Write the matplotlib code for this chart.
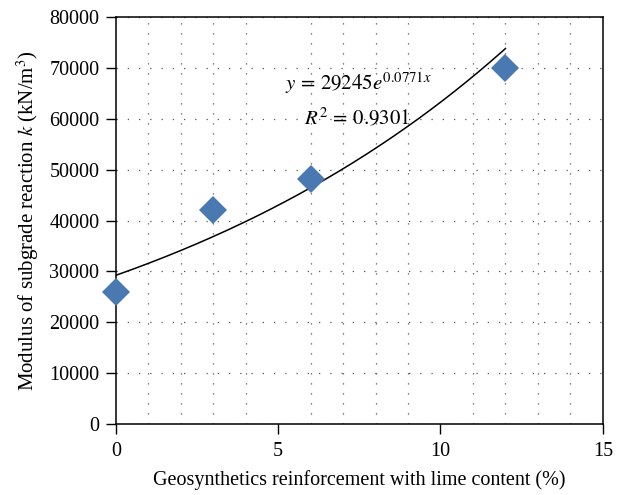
import numpy as np
import matplotlib
matplotlib.use('Agg')
import matplotlib.pyplot as plt

lime_content = [0, 3, 6, 12]
modulus_k = [26000, 42000, 48200, 70000]

# exponential trendline as printed on the chart
fit_a = 29245
fit_b = 0.0771
fit_r2 = 0.9301

plt.rcParams['font.family'] = 'Liberation Serif'
plt.rcParams['mathtext.fontset'] = 'stix'

fig = plt.figure(figsize=(6.44, 4.95), dpi=100)
ax = fig.add_axes([0.180, 0.143, 0.756, 0.823])

xs = np.linspace(0, max(lime_content), 200)
ax.plot(xs, fit_a * np.exp(fit_b * xs), color='black', lw=1.1, zorder=2)
ax.plot(lime_content, modulus_k, 'D', color='#4a78b0', markersize=14,
        markeredgewidth=0, zorder=3, clip_on=False)

ax.set_xlim(0, 15)
ax.set_ylim(0, 80000)
ax.set_xticks([0, 5, 10, 15])
ax.set_xticks(range(0, 16), minor=True)
ax.set_yticks(range(0, 80001, 10000))
ax.tick_params(axis='x', which='minor', length=0)
ax.tick_params(axis='both', which='major', direction='out', length=7,
               width=1, labelsize=14.5, colors='black')
ax.tick_params(axis='x', pad=6)
ax.tick_params(axis='y', pad=5)

ax.grid(axis='y', which='major', color='#555555', linestyle=(0, (1, 8)), lw=0.9)
ax.grid(axis='x', which='minor', color='#555555', linestyle=(0, (1, 7)), lw=0.9)

for s in ax.spines.values():
    s.set_linewidth(1.1)

ax.set_xlabel('Geosynthetics reinforcement with lime content (%)', fontsize=14.5, labelpad=6)
ax.set_ylabel(r'Modulus of subgrade reaction $k$ (kN/m$^3$)', fontsize=15, labelpad=6)

ax.text(5.2, 65700, r'$y\,=\,29245e^{0.0771x}$', fontsize=15)
ax.text(5.8, 59000, r'$R^2\,=\,0.9301$', fontsize=15)

fig.savefig('out.png', dpi=100)
